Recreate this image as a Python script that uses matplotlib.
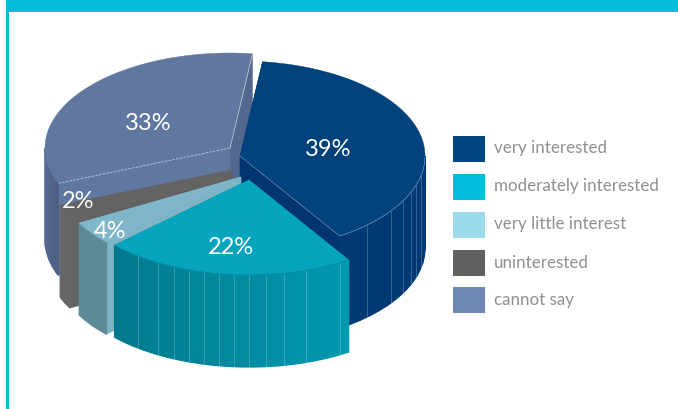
import numpy as np
import matplotlib
matplotlib.use("Agg")
import matplotlib.pyplot as plt
from matplotlib.colors import to_rgb
from matplotlib.patches import Rectangle

W, H = 678, 409
categories = ["very interested", "moderately interested", "very little interest", "uninterested", "cannot say"]
values = [39, 22, 4, 2, 33]
legend_colors = ["#004583", "#05bcdc", "#9bdaeb", "#606060", "#6e86b4"]
top_colors = ["#00427c", "#06a5bd", "#7fb6c8", "#636363", "#60789f"]
wall_left = ["#003a75", "#00798c", "#5d8a97", "#666666", "#5b6f96"]
wall_right = ["#003a75", "#009ab2", "#5d8a97", "#666666", "#4c5d82"]
cut_start = ["#003a75", "#007a8e", "#7db5c6", "#636363", "#60789f"]
cut_end = ["#00356f", "#007a8e", "#7db5c6", "#636363", "#53688f"]
centers = [(240, 156), (249, 180), (241, 177), (232, 170), (230, 148)]
label_xy = [(328, 149), (231, 248), (110, 231), (78, 202), (148, 123)]
facets = {
    0: [-46.7, -35.3, -28, -22.5, -18, -12],
    1: [-126.9, -119.3, -113.9, -108.9, -104, -99.2, -94.6, -90, -84.8, -79, -72, -60.7],
    2: [], 3: [], 4: [],
}
A, B, DEPTH = 185.0, 95.0, 92.0
START = 83.0

fig = plt.figure(figsize=(W / 100, H / 100), dpi=100)
ax = fig.add_axes([0, 0, 1, 1])
ax.set_xlim(0, W)
ax.set_ylim(H, 0)
ax.axis("off")

ax.add_patch(Rectangle((6, 0), W - 6, 12, color="#08bcdc", lw=0))
ax.add_patch(Rectangle((6, 0), 3, H, color="#08bcdc", lw=0))

def rim(c, t):
    t = np.radians(t)
    return c[0] + A * np.cos(t), c[1] - B * np.sin(t)

def mix(c1, c2, f):
    a, b = np.array(to_rgb(c1)), np.array(to_rgb(c2))
    return tuple(a + (b - a) * f)

def extruded(c, t, color):
    x, y = rim(c, t)
    ax.fill([c[0], x, x, c[0]], [c[1], y, y + DEPTH, c[1] + DEPTH], color=color, lw=0.3)

def draw_slice(i, t0, t1):
    c = centers[i]
    extruded(c, t0, cut_start[i])
    extruded(c, t1, cut_end[i])
    lo, hi = max(t1, -180), min(t0, 0)
    edges = np.r_[np.arange(lo, hi, 4.0), hi]
    span = max(hi - lo, 1e-6)
    for a, b in zip(edges[:-1], edges[1:]):
        ts = np.linspace(a, b, 8)
        xs, ys = rim(c, ts)
        col = mix(wall_left[i], wall_right[i], (a - lo) / span)
        ax.fill(np.r_[xs, xs[::-1]], np.r_[ys, ys[::-1] + DEPTH], color=col, lw=0.9)
    for f in facets[i]:
        x, y = rim(c, f)
        ax.plot([x, x], [y, y + DEPTH], color="#ffffff", alpha=0.22, lw=0.7, solid_capstyle="butt")
    ts = np.linspace(t0, t1, 120)
    xs, ys = rim(c, ts)
    ax.fill(np.r_[c[0], xs], np.r_[c[1], ys], color=top_colors[i], lw=0.3)
    return xs, ys

angle = START
spans = []
for v in values:
    spans.append((angle, angle - v * 3.6))
    angle -= v * 3.6

rim_pts = {}
for i in [4, 0, 3, 2, 1]:
    rim_pts[i] = draw_slice(i, *spans[i])

x, y = rim(centers[0], spans[0][1])
ax.plot([centers[0][0], x], [centers[0][1], y], color="#7f9fc0", lw=0.4)
xs0, ys0 = rim_pts[0]
m = ys0 > centers[0][1]
ax.plot(xs0[m], ys0[m], color="#8fb0d0", lw=0.4)
for t, dashed in [(spans[4][0], True), (spans[4][1], False)]:
    x, y = rim(centers[4], t)
    line, = ax.plot([centers[4][0], x], [centers[4][1], y], color="#b8c6da", lw=0.6)
    if dashed:
        line.set_dashes((3, 1.5))
ax.plot(rim_pts[1][0], rim_pts[1][1], color="#008aa3", lw=0.6)

for (lx, ly), v in zip(label_xy, values):
    ax.text(lx, ly, f"{v}%", color="white", fontsize=17, family="Lato", ha="center", va="center")

swatch_y = [136, 174, 212, 250, 287]
for name, col, sy in zip(categories, legend_colors, swatch_y):
    ax.add_patch(Rectangle((453, sy), 32, 26, color=col, lw=0))
    ax.text(494, sy + 12.5, name, color="#909090", fontsize=12.2, family="Lato", ha="left", va="center")

fig.savefig("out.png", dpi=100)
